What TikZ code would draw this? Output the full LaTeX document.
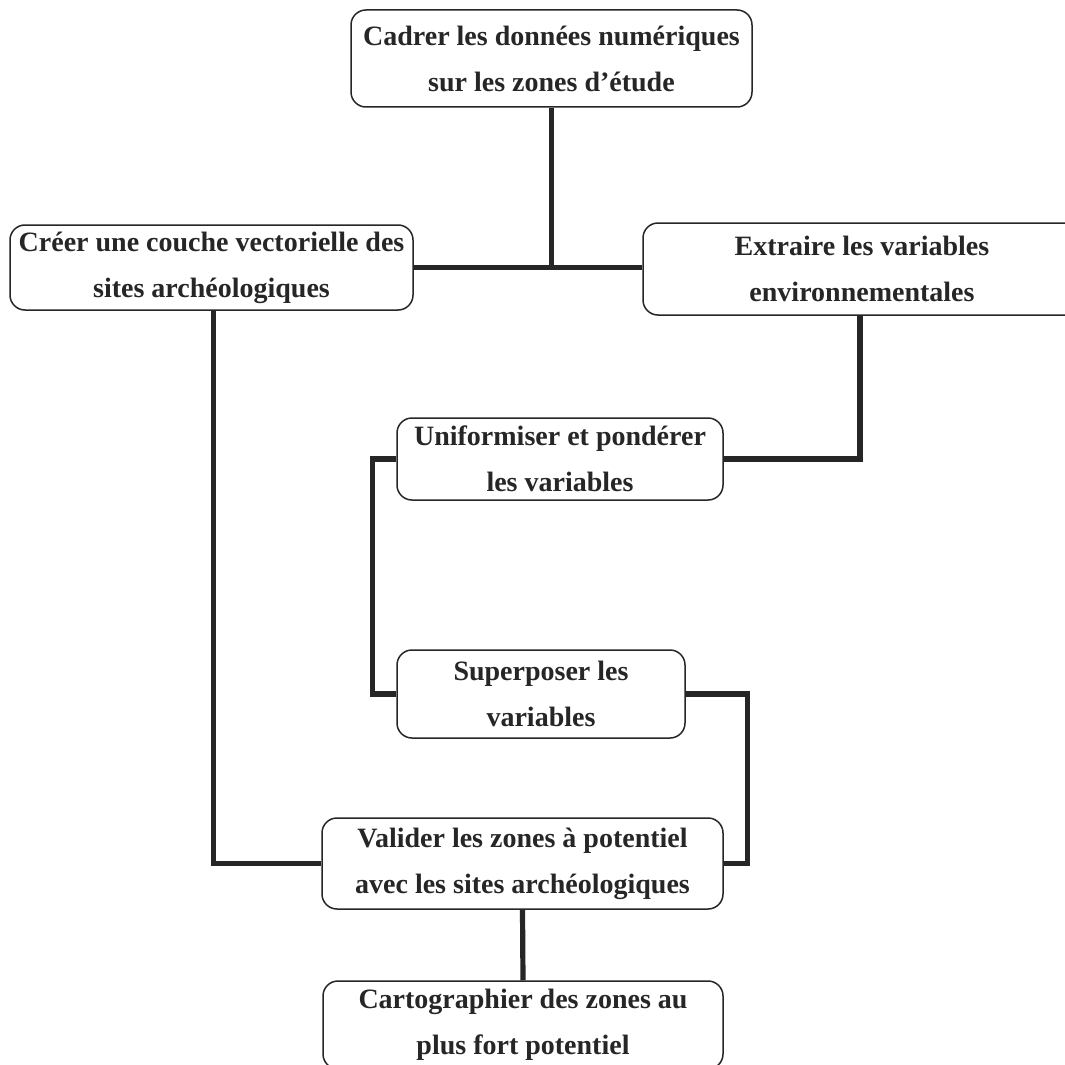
\documentclass[tikz,border=0pt]{standalone}
\usepackage{fontspec}
\setmainfont{Liberation Serif}
\begin{document}
\begin{tikzpicture}[x=0.5pt,y=-0.5pt,
  stepbox/.style={draw=black!85, line width=0.75pt, rounded corners=7.5pt,
    align=center, inner sep=1pt, font=\bfseries\fontsize{14}{23}\selectfont,
    text=black!85},
  link/.style={draw=black!85, line width=2.6pt}]
\useasboundingbox[fill=white] (0,0) rectangle (1065,1065);
\node[stepbox, minimum width=200.5pt, minimum height=48.5pt] (b1) at (551.5,58.5)
  {Cadrer les données numériques\\sur les zones d’étude};
\node[stepbox, minimum width=201.5pt, minimum height=42.5pt] (b2) at (211.5,267.5)
  {Créer une couche vectorielle des\\sites archéologiques};
\node[stepbox, minimum width=219pt, minimum height=46pt] (b3) at (862,269)
  {Extraire les variables\\environnementales};
\node[stepbox, minimum width=163pt, minimum height=41pt] (b4) at (560,459)
  {Uniformiser et pondérer\\les variables};
\node[stepbox, minimum width=144pt, minimum height=44pt] (b5) at (541,694)
  {Superposer les\\variables};
\node[stepbox, minimum width=200.5pt, minimum height=45.5pt] (b6) at (522.5,863.5)
  {Valider les zones à potentiel\\avec les sites archéologiques};
\node[stepbox, minimum width=200pt, minimum height=44pt] (b7) at (523,1025)
  {Cartographier des zones au\\plus fort potentiel};
\draw[link] (b1.south) -- (b1.south |- b2.east);
\draw[link] (b2.east) -- (b2.east -| b3.west);
\draw[link] ([xshift=-1pt]b3.south) |- (b4.east);
\draw[link] (b4.west) -- ++(-24,0) |- (b5.west);
\draw[link] (b5.east) -- ++(62,0) |- (b6.east);
\draw[link] ([xshift=1pt]b2.south) |- (b6.west);
\draw[link] (b6.south) -- (b7.north);
\end{tikzpicture}
\end{document}
